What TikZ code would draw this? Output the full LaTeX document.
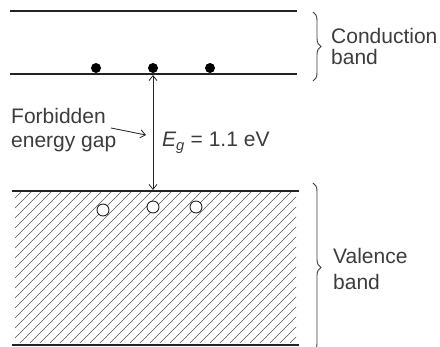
\documentclass[tikz,border=0pt]{standalone}
\usepackage{fontspec}
\setmainfont{Liberation Sans}
\usepackage{xcolor}
\usetikzlibrary{arrows.meta, decorations.pathreplacing}
\definecolor{bandline}{RGB}{35, 35, 35}
\definecolor{labelgray}{RGB}{60, 60, 60}
\definecolor{hatchgray}{RGB}{80, 80, 80}

\begin{document}
\begin{tikzpicture}[x=1pt, y=-1pt, font=\fontsize{21}{24}\selectfont,
  >={Straight Barb[length=5pt, width=8pt]},
  level/.style={draw=bandline, line width=1.3pt},
  elec/.style={circle, fill=black, inner sep=0pt, minimum size=10pt},
  hole/.style={circle, draw=bandline, fill=white, inner sep=0pt,
               minimum size=12pt, line width=0.9pt},
  bandbrace/.style={decorate, decoration={brace, amplitude=8pt},
                    draw=labelgray, line width=0.9pt},
  txt/.style={text=labelgray, align=left, inner sep=0pt}]
  \useasboundingbox (0,0) rectangle (440,347);
  % valence band hatching
  \begin{scope}
    \clip (15,191) rectangle (296,343);
    \foreach \i in {-170,-160,...,300}
      \draw[hatchgray, line width=0.45pt] (\i,343) -- (\i+170,173);
  \end{scope}
  \coordinate (ctop-l) at (10,11);  \coordinate (ctop-r) at (297,11);
  \coordinate (cbot-l) at (10,74);  \coordinate (cbot-r) at (297,74);
  \coordinate (vtop-l) at (12,191); \coordinate (vtop-r) at (299,191);
  \coordinate (vbot-l) at (12,345); \coordinate (vbot-r) at (299,345);
  \draw[level] (ctop-l) -- (ctop-r);
  \draw[level] (cbot-l) -- (cbot-r);
  \draw[level] (vtop-l) -- (vtop-r);
  \draw[level, line width=2pt] (vbot-l) -- (vbot-r);
  \node[elec] (e1) at (96,68)  {};
  \node[elec] (e2) at (153,68) {};
  \node[elec] (e3) at (210,68) {};
  \node[hole] (h1) at (103,210) {};
  \node[hole] (h2) at (153,207) {};
  \node[hole] (h3) at (196,207) {};
  \coordinate (gaptop) at (153,75);
  \coordinate (gapbot) at (153,190);
  \draw[<->, bandline, line width=0.8pt] (gaptop) -- (gapbot);
  \node[txt, anchor=north west] (forb) at (11,108) {Forbidden\\[0pt]energy gap};
  \coordinate (gapnote) at (111,128);
  \coordinate (gaptip) at (146,135);
  \draw[->, bandline, line width=0.8pt] (gapnote) -- (gaptip);
  \node[txt, anchor=base west] (eg) at (162,147)
    {{\itshape E}\textsubscript{\itshape g} = 1.1 eV};
  \coordinate (cb-a) at (313,12);  \coordinate (cb-b) at (313,81);
  \coordinate (vb-a) at (313,183); \coordinate (vb-b) at (313,352);
  \draw[bandbrace] (cb-a) -- (cb-b);
  \draw[bandbrace] (vb-a) -- (vb-b);
  \node[txt, anchor=north west] (cond) at (331,28) {Conduction\\[-3pt]band};
  \node[txt, anchor=north west] (val) at (333,248) {Valence\\[2pt]band};
\end{tikzpicture}
\end{document}
